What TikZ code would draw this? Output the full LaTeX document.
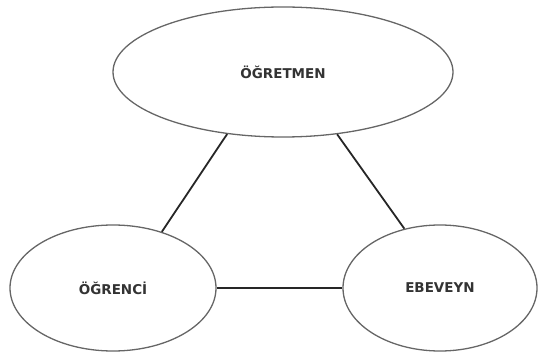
\documentclass[tikz,border=0pt]{standalone}
\usepackage{fontspec}
\newfontfamily\labelfont{DejaVu Sans}
\usetikzlibrary{shapes.geometric}

\begin{document}
\begin{tikzpicture}[
		x=1pt, y=1pt,
		role/.style = {draw=black!60, line width=1.3pt, ellipse, inner sep=0pt,
			font=\labelfont\bfseries\fontsize{13.5}{14}\selectfont, text=black!80},
		link/.style = {draw=black!85, line width=1.8pt}
		]
		\useasboundingbox (0,0) rectangle (538,356);
		
		\node[role, minimum width=340, minimum height=130] (ogretmen) at (283,284) {ÖĞRETMEN};
		\node[role, minimum width=206, minimum height=126] (ogrenci) at (113,68) {ÖĞRENCİ};
		\node[role, minimum width=194, minimum height=126] (ebeveyn) at (440,68) {EBEVEYN};
		
		\draw[link] (ogretmen.228) -- (ogrenci.49);
		\draw[link] (ogretmen.311) -- (ebeveyn.121);
		\draw[link] (ogrenci.east) -- (ebeveyn.west);
	\end{tikzpicture}
\end{document}
